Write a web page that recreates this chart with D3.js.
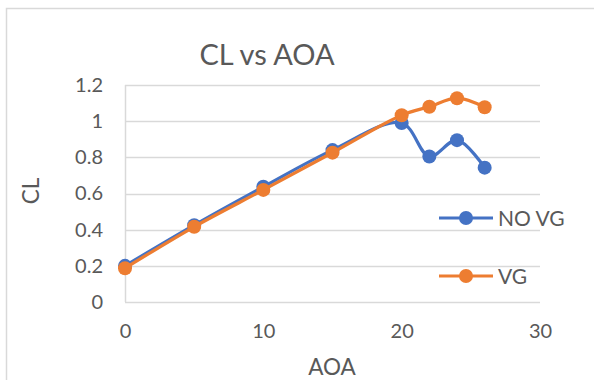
<!DOCTYPE html>
<html>
<head>
<meta charset="utf-8">
<script src="https://cdn.jsdelivr.net/npm/d3@7"></script>
<style>
  html, body { margin: 0; padding: 0; background: #fff; }
  svg { display: block; }
  text { font-family: Lato, "Open Sans", sans-serif; fill: #595959; }
</style>
</head>
<body>
<svg id="chart" width="594" height="380"></svg>
<script>
// Angle of attack (deg) and lift coefficient, with and without vortex generators
const aoa = [0, 5, 10, 15, 20, 22, 24, 26];
const clNoVG = [0.20, 0.425, 0.637, 0.84, 0.99, 0.805, 0.895, 0.743];
const clVG = [0.187, 0.416, 0.62, 0.826, 1.033, 1.08, 1.127, 1.077];
const xTicks = [0, 10, 20, 30];
const yTicks = [0, 0.2, 0.4, 0.6, 0.8, 1, 1.2];
const seriesNames = ["NO VG", "VG"];
const seriesColors = ["#4472C4", "#ED7D31"];

const svg = d3.select("#chart");

// outer chart frame
svg.append("rect")
  .attr("x", 6.5).attr("y", 8.5)
  .attr("width", 700).attr("height", 500)
  .attr("fill", "none").attr("stroke", "#d9d9d9").attr("stroke-width", 1.5);

const x = d3.scaleLinear().domain([0, 30]).range([125, 540]);
const y = d3.scaleLinear().domain([0, 1.2]).range([302, 85]);

// horizontal gridlines
svg.append("g")
  .selectAll("line")
  .data(yTicks)
  .join("line")
  .attr("x1", x(0)).attr("x2", x(30))
  .attr("y1", d => Math.round(y(d)) + 0.5).attr("y2", d => Math.round(y(d)) + 0.5)
  .attr("stroke", "#d9d9d9").attr("stroke-width", 1.5);

// vertical axis line
svg.append("line")
  .attr("x1", x(0) + 0.5).attr("x2", x(0) + 0.5)
  .attr("y1", y(1.2)).attr("y2", y(0))
  .attr("stroke", "#d9d9d9").attr("stroke-width", 1.5);

// y tick labels
const yAxis = d3.axisLeft(y).tickValues(yTicks).tickSize(0).tickPadding(22)
  .tickFormat(d => d3.format("")(+d.toFixed(1)));
const gy = svg.append("g").attr("transform", `translate(${x(0)},0)`).call(yAxis);
gy.select(".domain").remove();
gy.selectAll("text").style("font-size", "20px").attr("fill", "#595959")
  .style("font-family", "Lato, sans-serif");

// x tick labels
const xAxis = d3.axisBottom(x).tickValues(xTicks).tickSize(0).tickPadding(22);
const gx = svg.append("g").attr("transform", `translate(0,${y(0)})`).call(xAxis);
gx.select(".domain").remove();
gx.selectAll("text").style("font-size", "20px").attr("fill", "#595959")
  .style("font-family", "Lato, sans-serif");

// title and axis titles
svg.append("text").attr("x", 267).attr("y", 65).attr("text-anchor", "middle")
  .style("font-size", "29px").text("CL vs AOA");
svg.append("text").attr("x", 332).attr("y", 375).attr("text-anchor", "middle")
  .style("font-size", "22.5px").text("AOA");
svg.append("text").attr("transform", "translate(39,191) rotate(-90)")
  .attr("text-anchor", "middle").style("font-size", "22.5px").text("CL");

// series lines and markers
const line = d3.line()
  .x(d => x(d[0])).y(d => y(d[1]))
  .curve(d3.curveCatmullRom.alpha(0.5));

[clNoVG, clVG].forEach((vals, i) => {
  const pts = aoa.map((a, k) => [a, vals[k]]);
  const g = svg.append("g");
  g.append("path").datum(pts).attr("d", line)
    .attr("fill", "none").attr("stroke", seriesColors[i])
    .attr("stroke-width", 3.2).attr("stroke-linejoin", "round");
  g.selectAll("circle").data(pts).join("circle")
    .attr("cx", d => x(d[0])).attr("cy", d => y(d[1])).attr("r", 7)
    .attr("fill", seriesColors[i]);
});

// legend
const legendY = [218, 276];
seriesNames.forEach((name, i) => {
  const g = svg.append("g").attr("transform", `translate(0,${legendY[i]})`);
  g.append("line").attr("x1", 439).attr("x2", 493).attr("y1", 0).attr("y2", 0)
    .attr("stroke", seriesColors[i]).attr("stroke-width", 3.2);
  g.append("circle").attr("cx", 466).attr("cy", 0).attr("r", 7).attr("fill", seriesColors[i]);
  g.append("text").attr("x", 498).attr("y", 7.5).style("font-size", "21px").text(name);
});
</script>
</body>
</html>
